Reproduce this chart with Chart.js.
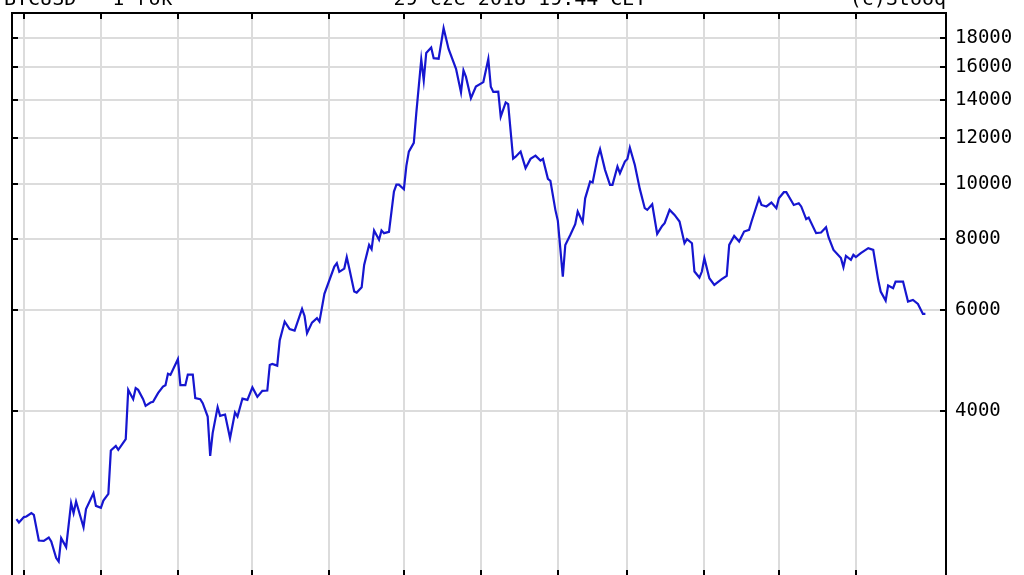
<!DOCTYPE html>
<html>
<head>
<meta charset="utf-8">
<script src="https://cdn.jsdelivr.net/npm/chart.js@4.4.1/dist/chart.umd.min.js"></script>
<style>
  html, body { margin: 0; padding: 0; background: #fff; overflow: hidden; }
  #wrap { position: relative; width: 1024px; height: 580px; }
</style>
</head>
<body>
<div id="wrap"><canvas id="chart"></canvas></div>
<script>
// BTCUSD daily close
const dates = [
  '2017-06-28', '2017-06-29', '2017-07-01', '2017-07-02', '2017-07-04', '2017-07-05', '2017-07-07', '2017-07-09',
  '2017-07-11', '2017-07-12', '2017-07-14', '2017-07-15', '2017-07-16', '2017-07-18', '2017-07-20', '2017-07-21',
  '2017-07-22', '2017-07-25', '2017-07-26', '2017-07-29', '2017-07-30', '2017-08-01', '2017-08-02', '2017-08-04',
  '2017-08-05', '2017-08-07', '2017-08-08', '2017-08-11', '2017-08-12', '2017-08-14', '2017-08-15', '2017-08-16',
  '2017-08-18', '2017-08-19', '2017-08-21', '2017-08-22', '2017-08-24', '2017-08-26', '2017-08-27', '2017-08-28',
  '2017-08-29', '2017-09-01', '2017-09-02', '2017-09-04', '2017-09-05', '2017-09-07', '2017-09-08', '2017-09-10',
  '2017-09-11', '2017-09-13', '2017-09-14', '2017-09-15', '2017-09-17', '2017-09-18', '2017-09-20', '2017-09-22',
  '2017-09-24', '2017-09-25', '2017-09-27', '2017-09-29', '2017-10-01', '2017-10-03', '2017-10-05', '2017-10-07',
  '2017-10-08', '2017-10-09', '2017-10-11', '2017-10-12', '2017-10-14', '2017-10-16', '2017-10-18', '2017-10-21',
  '2017-10-22', '2017-10-23', '2017-10-25', '2017-10-27', '2017-10-28', '2017-10-30', '2017-11-03', '2017-11-04',
  '2017-11-05', '2017-11-07', '2017-11-08', '2017-11-09', '2017-11-11', '2017-11-12', '2017-11-14', '2017-11-15',
  '2017-11-17', '2017-11-18', '2017-11-19', '2017-11-21', '2017-11-22', '2017-11-23', '2017-11-25', '2017-11-27',
  '2017-11-28', '2017-11-29', '2017-12-01', '2017-12-02', '2017-12-03', '2017-12-05', '2017-12-06', '2017-12-08',
  '2017-12-09', '2017-12-10', '2017-12-12', '2017-12-13', '2017-12-15', '2017-12-17', '2017-12-19', '2017-12-22',
  '2017-12-24', '2017-12-25', '2017-12-26', '2017-12-28', '2017-12-30', '2018-01-02', '2018-01-04', '2018-01-05',
  '2018-01-06', '2018-01-08', '2018-01-09', '2018-01-11', '2018-01-12', '2018-01-14', '2018-01-15', '2018-01-17',
  '2018-01-19', '2018-01-21', '2018-01-23', '2018-01-25', '2018-01-26', '2018-01-28', '2018-01-29', '2018-01-31',
  '2018-02-01', '2018-02-03', '2018-02-04', '2018-02-06', '2018-02-08', '2018-02-09', '2018-02-11', '2018-02-12',
  '2018-02-14', '2018-02-15', '2018-02-17', '2018-02-18', '2018-02-20', '2018-02-22', '2018-02-23', '2018-02-25',
  '2018-02-26', '2018-02-28', '2018-03-01', '2018-03-02', '2018-03-04', '2018-03-06', '2018-03-08', '2018-03-09',
  '2018-03-11', '2018-03-13', '2018-03-15', '2018-03-16', '2018-03-18', '2018-03-20', '2018-03-22', '2018-03-24',
  '2018-03-25', '2018-03-27', '2018-03-28', '2018-03-30', '2018-03-31', '2018-04-01', '2018-04-03', '2018-04-05',
  '2018-04-08', '2018-04-10', '2018-04-11', '2018-04-13', '2018-04-15', '2018-04-17', '2018-04-19', '2018-04-20',
  '2018-04-23', '2018-04-24', '2018-04-26', '2018-04-28', '2018-04-30', '2018-05-01', '2018-05-03', '2018-05-04',
  '2018-05-07', '2018-05-09', '2018-05-10', '2018-05-12', '2018-05-13', '2018-05-16', '2018-05-18', '2018-05-20',
  '2018-05-21', '2018-05-23', '2018-05-26', '2018-05-27', '2018-05-28', '2018-05-30', '2018-05-31', '2018-06-01',
  '2018-06-03', '2018-06-06', '2018-06-08', '2018-06-10', '2018-06-11', '2018-06-13', '2018-06-14', '2018-06-16',
  '2018-06-17', '2018-06-20', '2018-06-22', '2018-06-24', '2018-06-26', '2018-06-28', '2018-06-29'
];

const prices = [
  2585, 2550, 2606, 2612, 2648, 2630, 2371, 2368,
  2400, 2362, 2209, 2179, 2394, 2309, 2757, 2648,
  2775, 2502, 2692, 2870, 2727, 2706, 2786, 2862,
  3408, 3473, 3418, 3569, 4353, 4193, 4383, 4353,
  4193, 4081, 4136, 4147, 4295, 4411, 4436, 4644,
  4625, 4927, 4436, 4436, 4631, 4631, 4210, 4193,
  4126, 3909, 3336, 3656, 4060, 3920, 3941, 3583,
  3973, 3909, 4203, 4181, 4397, 4232, 4336, 4341,
  4814, 4833, 4800, 5311, 5733, 5561, 5529, 6035,
  5866, 5471, 5710, 5813, 5733, 6411, 7157, 7256,
  7006, 7100, 7434, 7112, 6471, 6444, 6584, 7206,
  7810, 7678, 8276, 7971, 8276, 8189, 8232, 9684,
  9961, 9961, 9778, 10741, 11380, 11786, 13285, 16504,
  15164, 16941, 17320, 16585, 16550, 18717, 17217, 15884,
  14448, 15788, 15379, 14114, 14789, 15060, 16524, 14789,
  14477, 14495, 13104, 13877, 13781, 11059, 11149, 11380,
  10644, 11050, 11195, 10975, 11050, 10194, 10112, 8996,
  8606, 6874, 7810, 8132, 8491, 8934, 8561, 9425,
  10083, 10042, 11108, 11490, 10571, 9949, 9949, 10712,
  10430, 10931, 11050, 11564, 10784, 9790, 9058, 8996,
  9204, 8165, 8432, 8526, 8996, 8815, 8582, 7865,
  7993, 7865, 7015, 6847, 7015, 7405, 6830, 6647,
  6803, 6893, 7810, 8099, 7916, 8242, 8299, 8582,
  9425, 9177, 9121, 9264, 9058, 9425, 9661, 9661,
  9177, 9241, 9121, 8665, 8721, 8189, 8209, 8387,
  8058, 7656, 7405, 7140, 7472, 7354, 7502, 7434,
  7554, 7709, 7656, 6784, 6471, 6240, 6630, 6561,
  6738, 6738, 6215, 6258, 6157, 5914, 5914
];

const yTicks = [4000, 6000, 8000, 10000, 12000, 14000, 16000, 18000];
const monthStarts = [
  '2017-07-01', '2017-08-01', '2017-09-01', '2017-10-01', '2017-11-01', '2017-12-01',
  '2018-01-01', '2018-02-01', '2018-03-01', '2018-04-01', '2018-05-01', '2018-06-01'
];
const headLeft = 'BTCUSD - 1 rok';
const headMid = '29 cze 2018 19:44 CET';
const headRight = '(c)Stooq';

const FONT = '"DejaVu Sans Mono", monospace';
const origin = Date.UTC(2017, 6, 1);
function dayOf(s) {
  const [y, m, d] = s.split('-').map(Number);
  return (Date.UTC(y, m - 1, d) - origin) / 86400000;
}

// frame, inward ticks and the header line
const frame = {
  id: 'frame',
  afterDraw(chart) {
    const { ctx, chartArea: a, scales } = chart;
    ctx.save();
    ctx.strokeStyle = '#000';
    ctx.lineWidth = 2;
    ctx.strokeRect(a.left, a.top, a.right - a.left, a.bottom - a.top);
    ctx.beginPath();
    monthStarts.forEach(m => {
      const x = Math.round(scales.x.getPixelForValue(dayOf(m)));
      ctx.moveTo(x, a.top); ctx.lineTo(x, a.top + 6);
      ctx.moveTo(x, a.bottom); ctx.lineTo(x, a.bottom - 6);
    });
    yTicks.forEach(v => {
      const y = Math.round(scales.y.getPixelForValue(v));
      ctx.moveTo(a.left, y); ctx.lineTo(a.left + 6, y);
      ctx.moveTo(a.right, y); ctx.lineTo(a.right - 6, y);
    });
    ctx.stroke();

    ctx.fillStyle = '#000';
    ctx.font = '20px ' + FONT;
    ctx.textBaseline = 'alphabetic';
    ctx.textAlign = 'left';
    ctx.fillText(headLeft, 4, 5);
    ctx.textAlign = 'center';
    ctx.fillText(headMid, 520, 5);
    ctx.textAlign = 'right';
    ctx.fillText(headRight, a.right, 5);
    ctx.restore();
  }
};

new Chart(document.getElementById('chart'), {
  type: 'line',
  data: {
    datasets: [{
      data: dates.map((d, i) => ({ x: dayOf(d), y: prices[i] })),
      borderColor: '#1616d0',
      borderWidth: 2.2,
      pointRadius: 0,
      tension: 0,
      fill: false,
    }],
  },
  options: {
    responsive: true,
    maintainAspectRatio: false,
    animation: false,
    layout: { padding: { left: 12, top: 13, right: 0, bottom: 4 } },
    plugins: { legend: { display: false }, tooltip: { enabled: false } },
    scales: {
      x: {
        type: 'linear',
        min: -4.8,
        max: 371.3,
        afterBuildTicks: s => { s.ticks = monthStarts.map(m => ({ value: dayOf(m) })) },
        afterFit: s => { s.height = 0; s.paddingLeft = 0; s.paddingRight = 0 },
        ticks: { display: false },
        grid: { color: '#dcdcdc', lineWidth: 2, drawTicks: false },
        border: { display: false },
      },
      y: {
        type: 'logarithmic',
        position: 'right',
        min: 2055,
        max: 19900,
        afterBuildTicks: s => { s.ticks = yTicks.map(v => ({ value: v })) },
        afterFit: s => { s.width = 78; s.paddingTop = 0; s.paddingBottom = 0 },
        ticks: {
          callback: v => String(v),
          color: '#000',
          font: { family: FONT, size: 19 },
          padding: 9,
        },
        grid: { color: '#dcdcdc', lineWidth: 2, drawTicks: false },
        border: { display: false },
      },
    },
  },
  plugins: [frame],
});
</script>
</body>
</html>
